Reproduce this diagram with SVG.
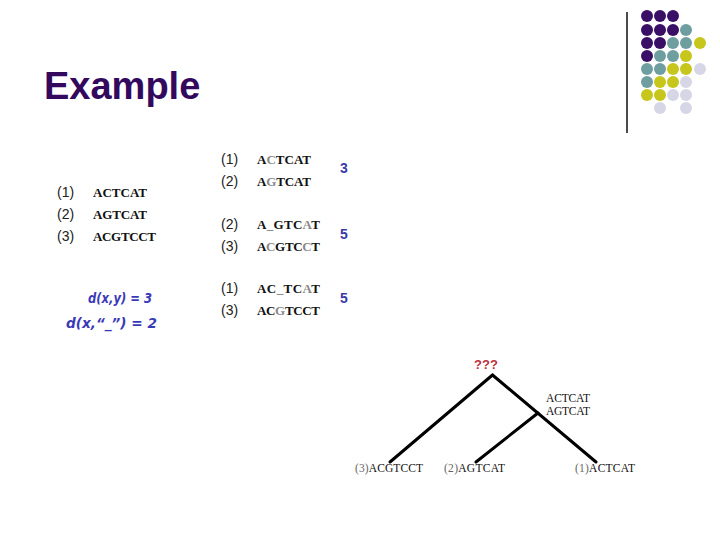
<svg xmlns="http://www.w3.org/2000/svg" width="720" height="540" viewBox="0 0 720 540">
<style>
.num{font-family:"Liberation Sans",Arial,sans-serif;font-size:14px;fill:#222}
.seq{font-family:"Liberation Serif","Times New Roman",serif;font-size:13px;font-weight:bold;fill:#111}
.g{fill:#8a8a8a}
.score{font-family:"Liberation Sans",Arial,sans-serif;font-size:14px;font-weight:bold;fill:#3a3aa8}
.hand{font-family:"DejaVu Sans",sans-serif;font-size:13.5px;font-weight:bold;font-style:italic;fill:#3a3ab8}
.tree{font-family:"Liberation Serif","Times New Roman",serif;font-size:11.5px;fill:#111}
.lg{fill:#666}
.edge{stroke:#000;stroke-width:3;fill:none;stroke-linecap:round}
.p{fill:#3a0f66}.t{fill:#6f9ea0}.y{fill:#c7c61c}.l{fill:#d6d6e6}
</style>
<rect width="720" height="540" fill="#fff"/>
<g id="decor">
<line x1="627" y1="12" x2="627" y2="133" stroke="#111" stroke-width="1.5"/>
<g>
<circle class="p" cx="647" cy="16" r="6"/><circle class="p" cx="660" cy="16" r="6"/><circle class="p" cx="673" cy="16" r="6"/>
<circle class="p" cx="647" cy="30" r="6"/><circle class="p" cx="660" cy="30" r="6"/><circle class="p" cx="673" cy="30" r="6"/><circle class="t" cx="686" cy="30" r="6"/>
<circle class="p" cx="647" cy="43" r="6"/><circle class="p" cx="660" cy="43" r="6"/><circle class="t" cx="673" cy="43" r="6"/><circle class="t" cx="686" cy="43" r="6"/><circle class="y" cx="700" cy="43" r="6"/>
<circle class="p" cx="647" cy="56" r="6"/><circle class="t" cx="660" cy="56" r="6"/><circle class="t" cx="673" cy="56" r="6"/><circle class="y" cx="686" cy="56" r="6"/>
<circle class="t" cx="647" cy="69" r="6"/><circle class="t" cx="660" cy="69" r="6"/><circle class="y" cx="673" cy="69" r="6"/><circle class="y" cx="686" cy="69" r="6"/><circle class="l" cx="700" cy="69" r="6"/>
<circle class="t" cx="647" cy="82" r="6"/><circle class="y" cx="660" cy="82" r="6"/><circle class="y" cx="673" cy="82" r="6"/><circle class="l" cx="686" cy="82" r="6"/>
<circle class="y" cx="647" cy="95" r="6"/><circle class="y" cx="660" cy="95" r="6"/><circle class="l" cx="673" cy="95" r="6"/><circle class="l" cx="686" cy="95" r="6"/>
<circle class="l" cx="660" cy="108" r="6"/><circle class="l" cx="686" cy="108" r="6"/>
</g>
</g>
<text id="title" x="44" y="99" font-family="'Liberation Sans',Arial,sans-serif" font-size="38" font-weight="bold" fill="#33095e">Example</text>
<g id="inputs">
<text class="num" x="57" y="197">(1)</text><text class="seq" x="93" y="197" textLength="54">ACTCAT</text>
<text class="num" x="57" y="219">(2)</text><text class="seq" x="93" y="219" textLength="54">AGTCAT</text>
<text class="num" x="57" y="241">(3)</text><text class="seq" x="93" y="241" textLength="63">ACGTCCT</text>
</g>
<g id="pair12">
<text class="num" x="221" y="164">(1)</text><text class="seq" x="257" y="164" textLength="54">A<tspan class="g">C</tspan>TCAT</text>
<text class="num" x="221" y="186">(2)</text><text class="seq" x="257" y="186" textLength="54">A<tspan class="g">G</tspan>TCAT</text>
<text class="score" x="340" y="173">3</text>
</g>
<g id="pair23">
<text class="num" x="221" y="229">(2)</text><text class="seq" x="257" y="229" textLength="63">A<tspan class="g">_</tspan>GTC<tspan class="g">A</tspan>T</text>
<text class="num" x="221" y="251">(3)</text><text class="seq" x="257" y="251" textLength="63">A<tspan class="g">C</tspan>GTC<tspan class="g">C</tspan>T</text>
<text class="score" x="340" y="239">5</text>
</g>
<g id="pair13">
<text class="num" x="221" y="293">(1)</text><text class="seq" x="257" y="293" textLength="63">AC<tspan class="g">_</tspan>TC<tspan class="g">A</tspan>T</text>
<text class="num" x="221" y="315">(3)</text><text class="seq" x="257" y="315" textLength="63">AC<tspan class="g">G</tspan>TCCT</text>
<text class="score" x="340" y="303">5</text>
</g>
<g id="costs">
<text class="hand" x="88" y="303" textLength="64" lengthAdjust="spacingAndGlyphs">d(x,y) = 3</text>
<text class="hand" x="66" y="328" textLength="91" lengthAdjust="spacingAndGlyphs">d(x,“_”) = 2</text>
</g>
<g id="connectors">
<line class="edge" x1="492.5" y1="375" x2="390" y2="462"/>
<line class="edge" x1="492.5" y1="375" x2="596" y2="462"/>
<line class="edge" x1="538" y1="413" x2="476" y2="462"/>
</g>
<g id="root"><text x="474" y="369" font-family="'Liberation Sans',Arial,sans-serif" font-size="13" font-weight="bold" fill="#c0303a" textLength="24">???</text></g>
<g id="inner"><text class="tree" x="546" y="402" textLength="44">ACTCAT</text><text class="tree" x="546" y="415" textLength="44">AGTCAT</text></g>
<g id="leaf3"><text class="tree" x="355" y="472" textLength="68"><tspan class="lg">(3)</tspan>ACGTCCT</text></g>
<g id="leaf2"><text class="tree" x="444" y="472" textLength="61"><tspan class="lg">(2)</tspan>AGTCAT</text></g>
<g id="leaf1"><text class="tree" x="575" y="472" textLength="60"><tspan class="lg">(1)</tspan>ACTCAT</text></g>
</svg>
